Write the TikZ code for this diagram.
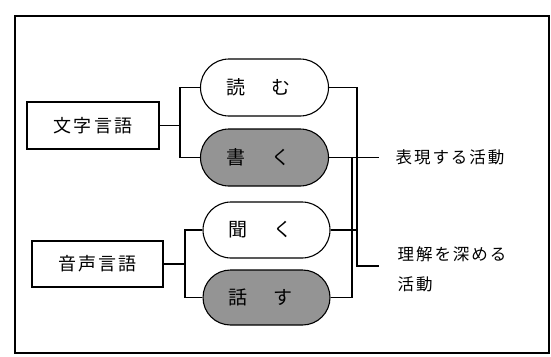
\documentclass[tikz,border=0pt]{standalone}
\usepackage{fontspec}
\newfontfamily\jp{Noto Sans CJK JP}
\newfontfamily\jpsp[LetterSpace=12]{Noto Sans CJK JP}
\usetikzlibrary{shapes.misc}
\begin{document}
\begin{tikzpicture}[x=1pt,y=-1pt,
  line width=1.1pt,
  langbox/.style={draw,rectangle,minimum width=132pt,minimum height=47pt,inner sep=0pt,font=\jpsp\fontsize{18}{18}\selectfont},
  pill/.style={draw,rounded rectangle,minimum width=128pt,minimum height=57pt,inner sep=0pt,font=\jp\fontsize{19}{19}\selectfont},
  shaded/.style={pill,fill=black!42},
  lbl/.style={font=\jpsp\fontsize{16.5}{30}\selectfont,inner sep=0pt,align=left}]
\useasboundingbox (0,0) rectangle (551,356);
\node[draw,line width=1.6pt,rectangle,minimum width=534pt,minimum height=337pt,anchor=north west,inner sep=0pt] (frame) at (14,15) {};
\node[langbox] (moji) at (93,125.5) {文字言語};
\node[langbox,minimum width=131pt,minimum height=46pt] (onsei) at (97.5,264) {音声言語};
\node[pill] (yomu) at (264.5,87.5) {読\hspace{26pt}む\hspace*{12pt}};
\node[shaded] (kaku) at (264.5,157.5) {書\hspace{26pt}く\hspace*{12pt}};
\node[pill,minimum width=127pt,minimum height=56pt] (kiku) at (266.5,230) {聞\hspace{26pt}く\hspace*{12pt}};
\node[shaded,minimum width=127pt,minimum height=55pt] (hanasu) at (266.5,297.5) {話\hspace{26pt}す\hspace*{12pt}};
% left branches
\coordinate (mb) at (180,125.5);
\coordinate (ob) at (185,264);
\draw (moji.east) -- (mb);
\draw (yomu.west) -| (mb) |- (kaku.west);
\draw (onsei.east) -- (ob);
\draw (kiku.west) -| (ob) |- (hanasu.west);
% right side
\coordinate (ur) at (357,266);
\coordinate (ue) at (379,266);
\coordinate (ej) at (352,157.5);
\coordinate (ee) at (379,157.5);
\draw (kaku.east) -- (ee);
\draw (hanasu.east) -| (ej);
\draw (yomu.east) -| (ur) -- (ue);
\draw (kiku.east) -- (kiku.east -| ur);
\node[lbl,anchor=west] (hyogen) at (395,157.5) {表現する活動};
\node[lbl,anchor=north west] (rikai) at (397,246) {理解を深める\\活動};
\end{tikzpicture}
\end{document}
